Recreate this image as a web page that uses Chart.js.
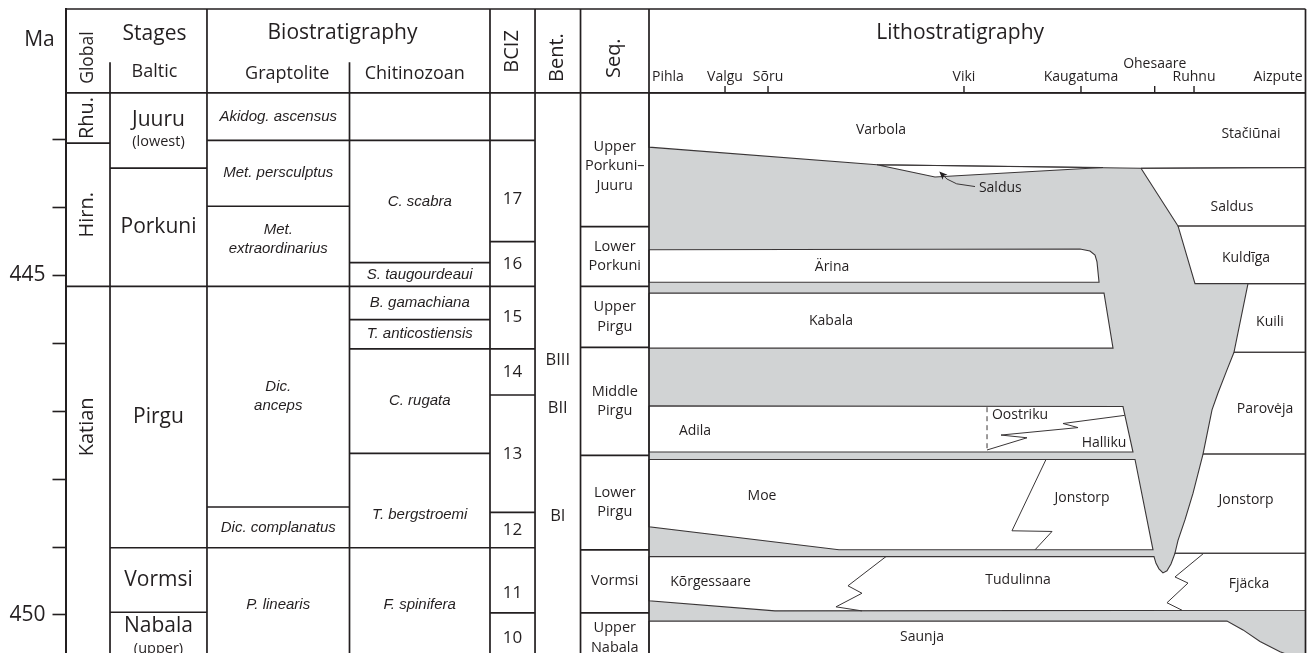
<!DOCTYPE html>
<html>
<head>
<meta charset="utf-8">
<script src="https://cdn.jsdelivr.net/npm/chart.js@4.4.0/dist/chart.umd.min.js"></script>
<style>
  html, body { margin: 0; padding: 0; background: #fff; }
  #wrap { width: 1311px; height: 653px; position: relative; }
</style>
</head>
<body>
<div id="wrap"><canvas id="stratChart"></canvas></div>
<script>
// ages in Ma (y), x in % along the lithostratigraphic transect (Pihla = 0, Aizpute = 100)
const TOP_MA = 441.075, BOTTOM_MA = 450.56, HEADER_MA = 442.31, SUBHEAD_MA = 441.86;
const OPEN_BASE = 450.7; // units that continue below the figure

const ageTicks = [443, 444, 445, 446, 447, 448, 449, 450];

const globalStages = ['Rhu.', 'Hirn.', 'Katian'];
const globalBases = [443.05, 445.16, OPEN_BASE];

const balticStages = ['Juuru', 'Porkuni', 'Pirgu', 'Vormsi', 'Nabala'];
const balticNotes = ['(lowest)', '', '', '', '(upper)'];
const balticBases = [443.42, 445.16, 449.01, 449.96, OPEN_BASE];

const graptoliteZones = ['Akidog. ascensus', 'Met. persculptus', 'Met.\nextraordinarius', 'Dic.\nanceps', 'Dic. complanatus', 'P. linearis'];
const graptoliteBases = [443.01, 443.98, 445.16, 448.41, 449.01, OPEN_BASE];

const chitinozoanZones = ['', 'C. scabra', 'S. taugourdeaui', 'B. gamachiana', 'T. anticostiensis', 'C. rugata', 'T. bergstroemi', 'F. spinifera'];
const chitinozoanBases = [443.01, 444.81, 445.16, 445.65, 446.08, 447.62, 449.01, OPEN_BASE];

const bcizZones = ['', '17', '16', '15', '14', '13', '12', '11', '10'];
const bcizBases = [443.01, 444.50, 445.16, 446.08, 446.76, 448.49, 449.01, 449.97, OPEN_BASE];

const benthicZones = ['BIII', 'BII', 'BI'];
const benthicLevels = [446.25, 446.95, 448.55];

const sequences = ['Upper\nPorkuni–\nJuuru', 'Lower\nPorkuni', 'Upper\nPirgu', 'Middle\nPirgu', 'Lower\nPirgu', 'Vormsi', 'Upper\nNabala'];
const sequenceBases = [444.28, 445.16, 446.06, 447.65, 449.04, 449.97, OPEN_BASE];

// labels that do not sit at the middle of their cell (Ma)
const labelAt = { 'Katian': 447.23, '17': 443.87, '11': 449.68, 'T. bergstroemi': 448.53, 'Met.\nextraordinarius': 444.46, 'Upper\nPorkuni–\nJuuru': 443.39 };

const localities = ['Pihla', 'Valgu', 'Sõru', 'Viki', 'Kaugatuma', 'Ohesaare', 'Ruhnu', 'Aizpute'];
const localityPos = [0, 11.58, 18.13, 47.98, 65.80, 77.03, 83.02, 100];

// formation bodies [x %, Ma]
const varbolaBody = [[0, 442.31], [100, 442.31], [100, 443.41], [74.94, 443.42], [34.73, 443.37], [0, 443.11]];
const saldusWedge = [[34.73, 443.37], [69.15, 443.41], [43.56, 443.55]];
const saldusBody = [[74.94, 443.42], [100, 443.41], [100, 444.27], [80.58, 444.27]];
const kuldigaBody = [[80.58, 444.27], [100, 444.27], [100, 445.12], [83.17, 445.12]];
const kuiliBody = [[91.24, 445.12], [100, 445.12], [100, 446.13], [89.11, 446.13]];
const parovejaBody = [[89.11, 446.13], [100, 446.13], [100, 447.63], [84.39, 447.63], [85.76, 446.98], [86.67, 446.73], [88.04, 446.39]];
const jonstorpEastBody = [[84.39, 447.63], [100, 447.63], [100, 449.09], [80.12, 449.09], [80.58, 448.90], [81.64, 448.60], [82.86, 448.21]];
const arinaBody = [[0, 444.62], [65.65, 444.61], [67.17, 444.64], [67.94, 444.70], [68.24, 444.80], [68.55, 445.10], [0, 445.10]];
const kabalaBody = [[0, 445.26], [69.31, 445.26], [70.68, 446.07], [0, 446.07]];
const adilaBody = [[0, 446.92], [72.20, 446.93], [73.72, 447.60], [0, 447.60]];
const moeBody = [[0, 447.71], [74.03, 447.71], [76.77, 449.04], [28.94, 449.04], [0, 448.70]];
const tudulinnaBody = [[0, 449.14], [76.92, 449.14], [77.23, 449.24], [77.68, 449.32], [78.29, 449.38], [78.90, 449.35], [79.51, 449.25], [80.12, 449.09], [100, 449.09], [100, 449.93], [19.19, 449.94], [0, 449.79]];
const saunjaBody = [[0, 450.09], [88.04, 450.09], [90.48, 450.22], [93.07, 450.39], [96.12, 450.54], [99.16, 450.66], [99.16, 450.9], [0, 450.9]];

// contacts inside bodies
const oostrikuDash = [[51.49, 446.94], [51.49, 447.57]];
const hallikuContact = [[72.45, 447.06], [63.06, 447.18], [65.35, 447.24], [53.62, 447.35], [57.58, 447.39], [51.49, 447.57]];
const jonstorpContact = [[60.47, 447.71], [55.29, 448.76], [61.39, 448.77], [58.80, 449.04]];
const korgessaareContact = [[36.10, 449.14], [30.31, 449.57], [32.44, 449.68], [28.48, 449.88], [32.44, 449.94]];
const fjackaContact = [[84.39, 449.10], [80.12, 449.44], [82.10, 449.53], [78.90, 449.82], [81.19, 449.93]];
const saldusArrow = [[49.66, 443.69], [46.87, 443.65], [45.40, 443.58], [44.33, 443.48]];

const lithoNames = ['Varbola', 'Stačiūnai', 'Saldus', 'Saldus', 'Kuldīga', 'Ärina', 'Kabala', 'Kuili', 'Adila', 'Oostriku', 'Halliku', 'Parovėja', 'Moe', 'Jonstorp', 'Jonstorp', 'Kõrgessaare', 'Tudulinna', 'Fjäcka', 'Saunja'];
const lithoLabelX = [35.34, 91.70, 53.51, 88.80, 90.94, 27.88, 27.72, 94.59, 7.01, 56.51, 69.31, 93.83, 17.21, 65.96, 90.94, 9.37, 56.21, 91.39, 41.58];
const lithoLabelMa = [442.86, 442.91, 443.71, 443.99, 444.74, 444.87, 445.67, 445.68, 447.29, 447.05, 447.46, 446.96, 448.25, 448.27, 448.30, 449.51, 449.48, 449.55, 450.32];

// ---- layout / style ----
const COL = { left: -88.88, global: -82.1, stages: -67.33, grapt: -45.62, chitino: -24.22, bciz: -17.36, bent: -10.43, litho: 0, right: 100 };
const INK = '#231f20';
const LINE = '#3a3637';
const GREY = '#d1d3d4';
const SANS = '"Open Sans", "Noto Sans", sans-serif';
const F = {
  head: `21px ${SANS}`,
  sub: `18px ${SANS}`,
  stage: `21px ${SANS}`,
  note: `14.5px ${SANS}`,
  rot: `20px ${SANS}`,
  global: `17.5px ${SANS}`,
  zone: `italic 15px "Liberation Sans", Arial, sans-serif`,
  num: `17px ${SANS}`,
  bent: `16.5px ${SANS}`,
  seq: `14.5px ${SANS}`,
  litho: `14px ${SANS}`
};

function pts(pairs, close) {
  const p = pairs.map(([x, y]) => ({ x, y }));
  if (close) p.push({ x: pairs[0][0], y: pairs[0][1] });
  return p;
}

// table grid segments
const gridPts = [];
function seg(x0, y0, x1, y1) { gridPts.push({ x: x0, y: y0 }, { x: x1, y: y1 }, { x: null, y: null }); }
seg(COL.left, TOP_MA, COL.right, TOP_MA);
seg(COL.left, HEADER_MA, COL.right, HEADER_MA);
seg(COL.global, SUBHEAD_MA, COL.global, OPEN_BASE);
seg(COL.grapt, SUBHEAD_MA, COL.grapt, OPEN_BASE);
[COL.stages, COL.chitino, COL.bciz, COL.bent, COL.litho, COL.right].forEach(x => seg(x, TOP_MA, x, OPEN_BASE));
[[COL.left, COL.global, globalBases], [COL.global, COL.stages, balticBases], [COL.stages, COL.grapt, graptoliteBases],
 [COL.grapt, COL.chitino, chitinozoanBases], [COL.chitino, COL.bciz, bcizBases], [COL.bent, COL.litho, sequenceBases]]
  .forEach(([x0, x1, bases]) => bases.slice(0, -1).forEach(b => seg(x0, b, x1, b)));

const tickPts = [];
localityPos.forEach(p => { if (p > 0 && p < 100) tickPts.push({ x: p, y: HEADER_MA }, { x: p, y: 442.21 }, { x: null, y: null }); });

const bodies = [varbolaBody, saldusWedge, saldusBody, kuldigaBody, kuiliBody, parovejaBody, jonstorpEastBody,
  arinaBody, kabalaBody, adilaBody, moeBody, tudulinnaBody, saunjaBody];

const datasets = [];
datasets.push({ data: pts([[0, HEADER_MA], [100, HEADER_MA], [100, 450.9], [0, 450.9]], true), fill: 'shape',
  backgroundColor: GREY, borderColor: 'rgba(0,0,0,0)', borderWidth: 0, order: 100 });
bodies.forEach(b => {
  datasets.push({ data: pts(b, true), fill: 'shape', backgroundColor: '#fff', borderColor: 'rgba(0,0,0,0)', borderWidth: 0, order: 60 });
  datasets.push({ data: pts(b, true), fill: false, borderColor: LINE, borderWidth: 1.1, order: 45 });
});
[hallikuContact, jonstorpContact, korgessaareContact, fjackaContact, saldusArrow].forEach(c =>
  datasets.push({ data: pts(c, false), fill: false, borderColor: LINE, borderWidth: 1, order: 40 }));
datasets.push({ data: pts(oostrikuDash, false), fill: false, borderColor: LINE, borderWidth: 1, borderDash: [5, 4], order: 40 });
datasets.push({ data: tickPts, fill: false, borderColor: INK, borderWidth: 1.4, order: 20, clip: false });
datasets.push({ data: gridPts, fill: false, borderColor: INK, borderWidth: 1.7, order: 10, clip: false });

function text(ctx, str, px, py, font, align = 'center', angle = 0) {
  ctx.save();
  ctx.translate(px, py);
  if (angle) ctx.rotate(angle);
  ctx.font = font;
  ctx.textAlign = align;
  ctx.textBaseline = 'middle';
  ctx.fillStyle = INK;
  ctx.fillText(str, 0, 0);
  ctx.restore();
}
function multi(ctx, str, px, py, font, lh) {
  const lines = str.split('\n');
  lines.forEach((ln, i) => text(ctx, ln, px, py + (i - (lines.length - 1) / 2) * lh, font));
}

const stratLabels = {
  id: 'stratLabels',
  afterDraw(chart) {
    const { ctx, chartArea } = chart;
    const X = v => chart.scales.x.getPixelForValue(v);
    const Y = v => chart.scales.y.getPixelForValue(v);
    const mid = (a, b) => (X(a) + X(b)) / 2;
    const up = -Math.PI / 2;
    const cellY = (name, bases, i) => (name in labelAt ? Y(labelAt[name])
      : (Y(i === 0 ? HEADER_MA : bases[i - 1]) + Y(bases[i])) / 2);

    // headers
    text(ctx, 'Ma', chartArea.left - 26, Y(441.53), F.head);
    text(ctx, 'Stages', mid(COL.global, COL.stages) - 4, Y(441.44), F.head);
    text(ctx, 'Baltic', mid(COL.global, COL.stages) - 4, Y(442.0), F.sub);
    text(ctx, 'Biostratigraphy', mid(COL.stages, COL.chitino) - 6, Y(441.43), F.head);
    text(ctx, 'Graptolite', mid(COL.stages, COL.grapt) + 9, Y(442.03), F.sub);
    text(ctx, 'Chitinozoan', mid(COL.grapt, COL.chitino) - 5, Y(442.03), F.sub);
    text(ctx, 'Lithostratigraphy', X(47.4), Y(441.43), F.head);
    text(ctx, 'Global', mid(COL.left, COL.global), Y(441.79), F.global, 'center', up);
    text(ctx, 'BCIZ', mid(COL.chitino, COL.bciz), Y(441.70), F.rot, 'center', up);
    text(ctx, 'Bent.', mid(COL.bciz, COL.bent), Y(441.79), F.rot, 'center', up);
    text(ctx, 'Seq.', mid(COL.bent, COL.litho), Y(441.80), F.rot, 'center', up);

    localities.forEach((name, i) => {
      const p = localityPos[i];
      let align = 'center', px = X(p), ma = 442.08;
      if (p === 0) { align = 'left'; px += 3; }
      else if (p === 100) { align = 'right'; px -= 3; }
      if (name === 'Ohesaare') ma = 441.88;
      text(ctx, name, px, Y(ma), F.litho, align);
    });

    globalStages.forEach((name, i) => text(ctx, name, mid(COL.left, COL.global), cellY(name, globalBases, i), F.rot, 'center', up));
    balticStages.forEach((name, i) => {
      const cy = cellY(name, balticBases, i);
      if (balticNotes[i]) {
        text(ctx, name, mid(COL.global, COL.stages), cy - 11, F.stage);
        text(ctx, balticNotes[i], mid(COL.global, COL.stages), cy + 11, F.note);
      } else {
        text(ctx, name, mid(COL.global, COL.stages), cy, F.stage);
      }
    });
    graptoliteZones.forEach((n, i) => n && multi(ctx, n, mid(COL.stages, COL.grapt), cellY(n, graptoliteBases, i), F.zone, 19));
    chitinozoanZones.forEach((n, i) => n && multi(ctx, n, mid(COL.grapt, COL.chitino), cellY(n, chitinozoanBases, i), F.zone, 19));
    bcizZones.forEach((n, i) => n && text(ctx, n, mid(COL.chitino, COL.bciz), cellY(n, bcizBases, i), F.num));
    benthicZones.forEach((n, i) => text(ctx, n, mid(COL.bciz, COL.bent), Y(benthicLevels[i]), F.bent));
    sequences.forEach((n, i) => multi(ctx, n, mid(COL.bent, COL.litho), cellY(n, sequenceBases, i), F.seq, 19.5));

    lithoNames.forEach((n, i) => text(ctx, n, X(lithoLabelX[i]), Y(lithoLabelMa[i]), F.litho));

    // arrow head on the Saldus pointer
    const a = saldusArrow[saldusArrow.length - 1], b = saldusArrow[saldusArrow.length - 2];
    const ax = X(a[0]), ay = Y(a[1]);
    const ang = Math.atan2(ay - Y(b[1]), ax - X(b[0]));
    ctx.save();
    ctx.translate(ax, ay);
    ctx.rotate(ang);
    ctx.beginPath();
    ctx.moveTo(1, 0);
    ctx.lineTo(-7, -3.5);
    ctx.lineTo(-5, 0);
    ctx.lineTo(-7, 3.5);
    ctx.closePath();
    ctx.fillStyle = INK;
    ctx.fill();
    ctx.restore();
  }
};

new Chart(document.getElementById('stratChart'), {
  type: 'scatter',
  data: { datasets },
  options: {
    responsive: true,
    maintainAspectRatio: false,
    animation: false,
    events: [],
    layout: { padding: { top: 9, right: 5.5, bottom: 0, left: 0 } },
    datasets: { scatter: { showLine: true, pointRadius: 0, pointHoverRadius: 0, spanGaps: false, tension: 0 } },
    plugins: { legend: { display: false }, tooltip: { enabled: false } },
    scales: {
      x: { type: 'linear', min: COL.left, max: COL.right, display: false },
      y: {
        type: 'linear', reverse: true, min: TOP_MA, max: BOTTOM_MA, position: 'left',
        afterBuildTicks: axis => { axis.ticks = ageTicks.map(v => ({ value: v })); },
        afterFit: axis => { axis.width = 65.5; axis.paddingTop = 0; axis.paddingBottom = 0; },
        ticks: {
          autoSkip: false, padding: 7, color: INK,
          font: { family: '"Open Sans"', size: 21 },
          callback: v => (v % 5 === 0 ? String(v) : '')
        },
        grid: { drawOnChartArea: false, drawTicks: true, tickLength: 13, tickWidth: 1.6, tickColor: INK },
        border: { display: true, color: INK, width: 2 }
      }
    }
  },
  plugins: [stratLabels]
});
</script>
</body>
</html>
